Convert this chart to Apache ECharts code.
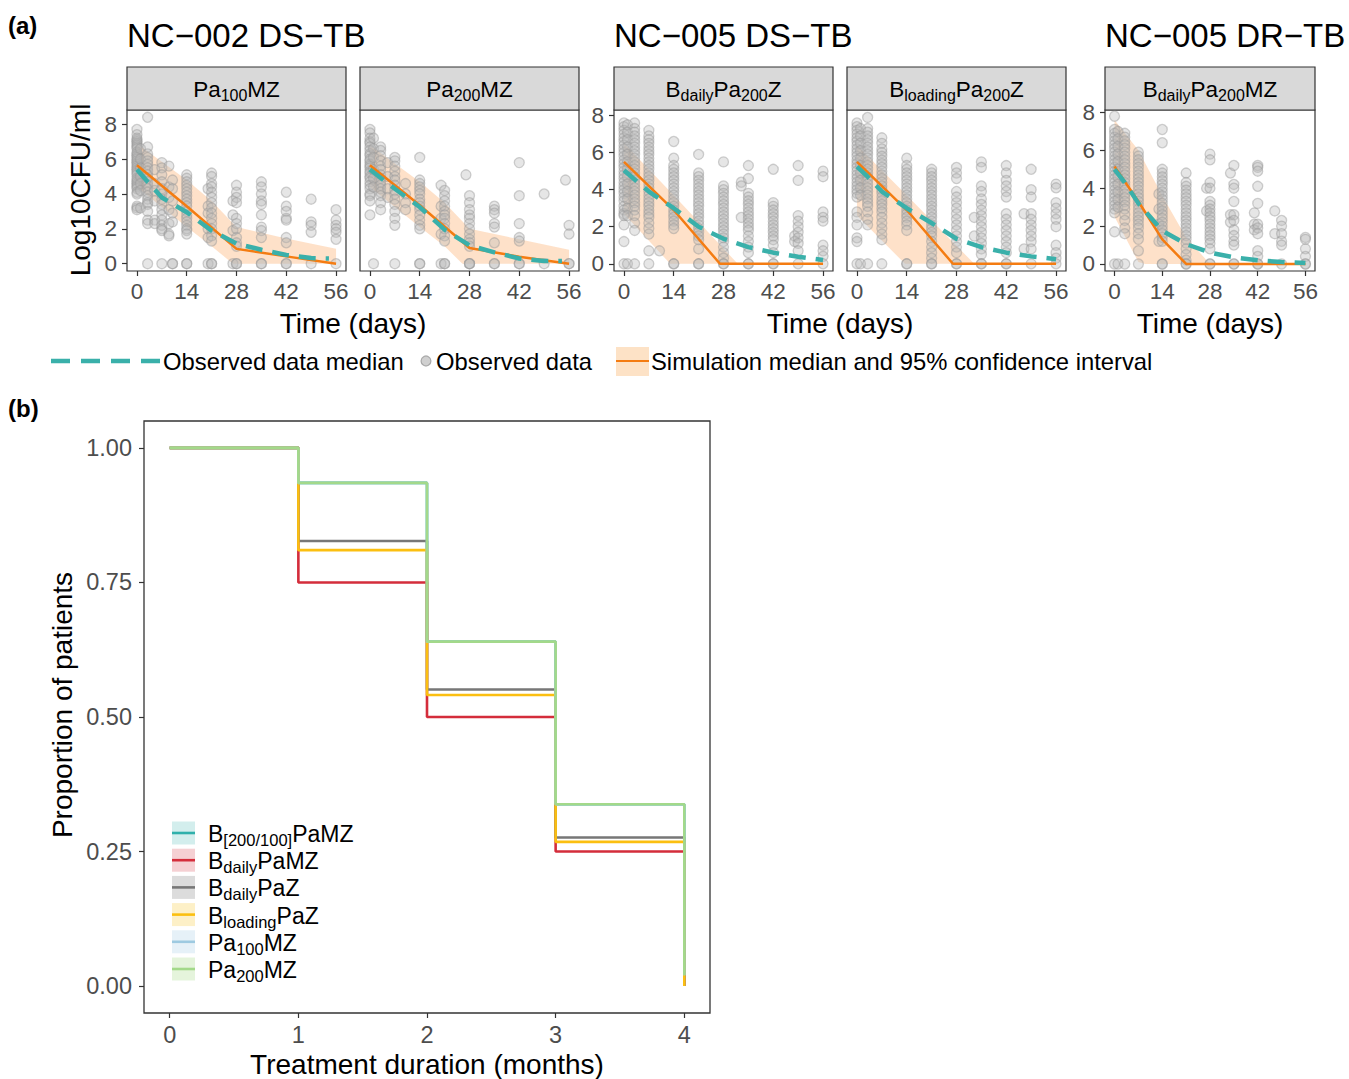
<!DOCTYPE html>
<html>
<head>
<meta charset="utf-8">
<title>Bacterial load and treatment duration</title>
<script src="https://cdn.jsdelivr.net/npm/echarts@6/dist/echarts.min.js"></script>
<style>
  html, body { margin: 0; padding: 0; background: #fff; }
  #chart { width: 1349px; height: 1079px; }
</style>
</head>
<body>
<div id="chart"></div>
<script>
// ---- panel (a): observed log10 CFU/ml, [day, [values]] per visit ----
const obsPa100MZ = [
  [0, [7.7, 7.4, 7.2, 7.1, 7.0, 6.9, 6.8, 6.7, 6.6, 6.4, 6.3, 6.2, 6.1, 6.0, 5.9, 5.8, 5.7, 5.6, 5.5, 5.4, 5.3, 5.2, 5.1, 4.9, 4.8, 4.7, 4.6, 4.5, 4.4, 4.3, 4.1, 4.0, 3.3, 3.2, 3.1]],
  [1, [6.6, 6.0, 5.5, 5.0, 4.6, 4.2, 3.2]],
  [3, [8.4, 6.7, 6.3, 6.1, 5.9, 5.7, 5.5, 5.3, 5.1, 4.9, 4.7, 4.5, 4.3, 4.1, 3.9, 3.7, 3.5, 3.4, 3.0, 2.5, 2.3, 0]],
  [5, [5.4, 4.6, 4.2, 3.6, 2.5, 2.3]],
  [7, [5.8, 5.5, 5.1, 4.7, 4.3, 4.0, 3.7, 3.4, 3.1, 2.8, 2.5, 2.2, 2.0, 1.9, 0]],
  [9, [5.6, 4.4, 3.8, 3.1, 2.3, 1.7, 1.6]],
  [10, [4.8, 4.3, 3.6, 2.9, 2.4, 0, 0]],
  [14, [5.1, 4.9, 4.7, 4.5, 4.3, 4.1, 3.9, 3.7, 3.5, 3.3, 3.0, 2.8, 2.6, 2.4, 2.2, 2.0, 1.9, 1.7, 0, 0]],
  [20, [4.3, 3.3, 2.9, 2.0, 1.5, 0]],
  [21, [5.2, 5.0, 4.6, 4.4, 4.1, 3.8, 3.5, 3.2, 2.9, 2.6, 2.3, 2.0, 1.6, 1.3, 0, 0]],
  [27, [3.6, 2.8, 1.9, 0]],
  [28, [4.5, 4.1, 3.8, 3.5, 2.6, 2.3, 2.0, 1.5, 1.2, 1.0, 0, 0]],
  [35, [4.7, 4.4, 4.0, 3.6, 3.4, 2.8, 2.1, 1.9, 1.5, 0, 0]],
  [42, [4.1, 3.3, 3.0, 2.6, 2.5, 1.5, 1.2, 0, 0]],
  [49, [3.7, 2.4, 2.2, 1.8, 0]],
  [56, [3.1, 2.5, 2.2, 2.0, 1.8, 1.4, 0]]
];
const obsPa200MZ = [
  [0, [7.7, 7.5, 7.2, 7.0, 6.9, 6.7, 6.5, 6.3, 6.2, 6.0, 5.9, 5.7, 5.6, 5.5, 5.3, 5.2, 5.0, 4.9, 4.7, 4.5, 4.3, 4.0, 3.9, 3.6, 2.8]],
  [1, [7.2, 6.6, 6.1, 5.4, 4.9, 4.4, 0]],
  [3, [6.7, 6.5, 6.2, 5.9, 5.6, 5.4, 5.1, 4.9, 4.7, 4.5, 4.3, 4.1, 3.9, 3.5, 3.1]],
  [5, [5.8, 5.0, 4.3, 3.8]],
  [7, [6.1, 5.9, 5.6, 5.3, 5.0, 4.8, 4.5, 4.2, 4.0, 3.7, 3.4, 3.0, 2.6, 2.2, 0]],
  [10, [4.6, 4.0, 3.5, 3.1]],
  [14, [6.1, 4.8, 4.6, 4.4, 4.2, 4.0, 3.7, 3.5, 3.3, 3.1, 2.8, 2.5, 2.2, 2.0, 0, 0]],
  [20, [4.5, 3.3, 2.6, 1.7, 0]],
  [21, [4.2, 3.9, 3.6, 3.3, 3.0, 2.8, 2.6, 2.3, 2.0, 1.6, 1.3, 0, 0]],
  [27, [5.1]],
  [28, [3.9, 3.5, 3.1, 2.8, 2.6, 2.3, 2.0, 1.7, 1.4, 1.2, 1.0, 0, 0, 0]],
  [35, [3.3, 3.1, 2.9, 2.3, 2.1, 1.2, 0, 0]],
  [42, [5.8, 3.9, 2.3, 1.5, 1.3, 0, 0]],
  [49, [4.0, 0]],
  [55, [4.8]],
  [56, [2.2, 1.7, 0, 0]]
];
const obsBdailyPa200Z = [
  [0, [7.6, 7.4, 7.2, 7.0, 6.8, 6.6, 6.4, 6.2, 6.0, 5.8, 5.6, 5.4, 5.2, 5.0, 4.8, 4.6, 4.4, 4.2, 4.0, 3.8, 3.6, 3.4, 3.1, 2.9, 2.7, 2.6, 2.1, 1.2, 0]],
  [1, [7.5, 7.1, 6.7, 6.3, 5.9, 5.5, 5.1, 4.7, 4.3, 3.9, 3.5, 3.0, 2.6, 0]],
  [3, [7.6, 7.3, 7.1, 6.9, 6.7, 6.5, 6.3, 6.1, 5.9, 5.7, 5.5, 5.3, 5.1, 4.9, 4.7, 4.5, 4.3, 4.1, 3.9, 3.7, 3.5, 3.3, 3.1, 2.9, 2.6, 2.2, 1.8, 0]],
  [7, [7.2, 6.9, 6.7, 6.5, 6.3, 6.1, 5.9, 5.7, 5.5, 5.3, 5.1, 4.9, 4.7, 4.5, 4.3, 4.1, 3.9, 3.7, 3.5, 3.3, 3.1, 2.9, 2.7, 2.5, 2.2, 1.9, 1.6, 0.7, 0]],
  [10, [0.7]],
  [14, [6.6, 5.7, 5.3, 5.1, 4.9, 4.7, 4.5, 4.3, 4.1, 3.9, 3.7, 3.5, 3.3, 3.1, 2.9, 2.7, 2.5, 2.3, 2.1, 1.9, 0, 0]],
  [21, [5.9, 4.9, 4.7, 4.5, 4.3, 4.1, 3.9, 3.7, 3.5, 3.3, 3.1, 2.9, 2.7, 2.5, 2.3, 2.1, 1.9, 1.7, 1.5, 1.3, 0.8, 0, 0]],
  [28, [5.5, 4.2, 4.0, 3.8, 3.6, 3.4, 3.2, 3.0, 2.8, 2.6, 2.4, 2.2, 2.0, 1.8, 1.6, 1.4, 1.2, 0.9, 0.6, 0.3, 0, 0]],
  [33, [4.4, 4.2, 2.5]],
  [35, [5.3, 4.6, 3.8, 3.6, 3.4, 3.2, 3.0, 2.8, 2.6, 2.4, 2.2, 2.0, 1.8, 1.5, 1.2, 0.9, 0.6, 0, 0]],
  [42, [5.1, 3.3, 3.1, 2.9, 2.7, 2.5, 2.3, 2.1, 1.9, 1.7, 1.5, 1.3, 1.0, 0.6, 0, 0]],
  [48, [1.5, 1.2]],
  [49, [5.3, 4.5, 2.6, 2.3, 2.0, 1.7, 1.4, 1.1, 0.7, 0]],
  [56, [5.0, 4.7, 2.8, 2.5, 2.3, 1.0, 0.7, 0.4, 0]]
];
const obsBloadingPa200Z = [
  [0, [7.6, 7.4, 7.2, 7.0, 6.8, 6.6, 6.4, 6.2, 6.0, 5.8, 5.6, 5.4, 5.2, 5.0, 4.8, 4.6, 4.4, 4.2, 4.0, 3.8, 3.6, 2.8, 2.5, 2.1, 1.4, 1.2, 0]],
  [1, [7.3, 6.9, 6.5, 6.1, 5.7, 5.3, 4.9, 4.5, 4.1, 3.7, 0]],
  [3, [7.9, 7.3, 7.1, 6.9, 6.7, 6.5, 6.3, 6.1, 5.9, 5.7, 5.5, 5.3, 5.1, 4.9, 4.7, 4.5, 4.3, 4.1, 3.9, 3.7, 3.5, 3.3, 3.1, 2.8, 2.4, 2.1, 0]],
  [7, [6.8, 6.5, 6.2, 6.0, 5.8, 5.6, 5.4, 5.2, 5.0, 4.8, 4.6, 4.4, 4.2, 4.0, 3.8, 3.6, 3.4, 3.2, 3.0, 2.8, 2.5, 2.2, 1.9, 1.6, 1.3, 0]],
  [14, [5.7, 5.3, 5.1, 4.9, 4.7, 4.5, 4.3, 4.1, 3.9, 3.7, 3.5, 3.3, 3.1, 2.9, 2.7, 2.5, 2.3, 2.1, 1.8, 0, 0]],
  [21, [5.1, 4.9, 4.7, 4.5, 4.3, 4.1, 3.9, 3.7, 3.5, 3.3, 3.1, 2.9, 2.7, 2.5, 2.3, 2.1, 1.9, 1.7, 1.5, 1.2, 0.9, 0.6, 0.3, 0, 0]],
  [28, [5.2, 4.9, 4.6, 3.9, 3.6, 3.3, 3.0, 2.7, 2.4, 2.1, 1.8, 1.5, 1.2, 0.9, 0.6, 0, 0]],
  [33, [2.5, 1.5]],
  [35, [5.5, 5.2, 4.2, 3.9, 3.5, 3.2, 2.9, 2.6, 2.3, 2.0, 1.7, 1.4, 1.1, 0.8, 0.5, 0, 0]],
  [42, [5.3, 4.9, 4.5, 4.2, 3.9, 3.6, 2.7, 2.4, 2.1, 1.8, 1.5, 1.2, 0.9, 0.6, 0, 0]],
  [47, [2.7, 0.8]],
  [49, [5.1, 4.0, 3.6, 2.7, 2.4, 2.1, 1.8, 1.5, 1.2, 0.8, 0]],
  [56, [4.3, 4.1, 3.3, 3.0, 2.7, 2.4, 2.0, 1.0, 0.6, 0.3, 0]]
];
const obsBdailyPa200MZ = [
  [0, [7.8, 7.1, 6.9, 6.7, 6.5, 6.3, 6.1, 5.9, 5.7, 5.5, 5.3, 5.1, 4.9, 4.7, 4.5, 4.3, 4.1, 3.9, 3.7, 3.5, 3.3, 3.1, 2.9, 2.7, 1.7, 0]],
  [1, [7.0, 6.6, 6.2, 5.8, 5.4, 5.0, 4.6, 4.2, 3.8, 3.4, 3.0, 0]],
  [3, [6.9, 6.7, 6.5, 6.3, 6.1, 5.9, 5.7, 5.5, 5.3, 5.1, 4.9, 4.7, 4.5, 4.3, 4.1, 3.9, 3.7, 3.5, 3.3, 3.1, 2.9, 2.6, 2.3, 1.9, 1.6, 0]],
  [7, [5.9, 5.7, 5.5, 5.3, 5.1, 4.9, 4.7, 4.5, 4.3, 4.1, 3.9, 3.7, 3.5, 3.3, 3.1, 2.9, 2.7, 2.5, 2.3, 2.1, 1.9, 1.6, 1.3, 0.7, 0]],
  [13, [3.7, 2.9, 2.1, 1.2]],
  [14, [7.1, 6.4, 5.0, 4.8, 4.6, 4.4, 4.2, 4.0, 3.8, 3.6, 3.4, 3.2, 3.0, 2.8, 2.6, 2.4, 2.2, 2.0, 1.8, 1.6, 1.4, 1.2, 0, 0]],
  [21, [4.8, 4.3, 4.1, 3.9, 3.7, 3.5, 3.3, 3.1, 2.9, 2.7, 2.5, 2.3, 2.1, 1.9, 1.7, 1.5, 1.3, 1.1, 0.8, 0.5, 0.2, 0, 0]],
  [27, [4.0, 2.8]],
  [28, [5.8, 5.5, 4.3, 4.0, 3.3, 3.1, 2.9, 2.7, 2.5, 2.3, 2.1, 1.9, 1.7, 1.5, 1.3, 1.1, 0.8, 0, 0]],
  [34, [4.8, 2.6, 2.2]],
  [35, [5.2, 4.2, 4.0, 3.3, 2.6, 2.3, 1.8, 1.5, 1.2, 1.0, 0, 0]],
  [41, [2.7, 2.1, 1.8]],
  [42, [5.2, 5.1, 4.9, 4.1, 3.2, 2.1, 1.9, 1.6, 0.7, 0.4, 0, 0]],
  [47, [2.8, 1.6]],
  [49, [2.3, 2.0, 1.6, 1.2, 1.0, 0]],
  [56, [1.4, 1.3, 0.8, 0.4, 0, 0]]
];

// observed data median, [day, log10 CFU]
const medPa100MZ = [[0, 5.4], [3, 4.7], [7, 3.8], [14, 2.95], [21, 1.9], [28, 1.15], [35, 0.8], [42, 0.5], [49, 0.32], [54, 0.3]];
const medPa200MZ = [[0, 5.4], [7, 4.3], [14, 3.25], [21, 1.95], [28, 1.05], [35, 0.65], [42, 0.3], [49, 0.15], [54, 0.15]];
const medBdailyPa200Z = [[0, 5.05], [3, 4.55], [7, 3.9], [14, 3.0], [21, 2.0], [28, 1.35], [35, 0.9], [42, 0.6], [49, 0.38], [56, 0.2]];
const medBloadingPa200Z = [[0, 5.25], [3, 4.7], [7, 3.9], [14, 3.0], [21, 2.2], [28, 1.35], [35, 0.9], [42, 0.6], [49, 0.4], [56, 0.25]];
const medBdailyPa200MZ = [[0, 5.0], [3, 4.3], [7, 3.2], [14, 1.75], [21, 1.05], [28, 0.6], [35, 0.35], [42, 0.2], [49, 0.1], [56, 0.05]];

// simulation median and 95% interval
const simPa100MZ = [[0, 5.65], [14, 3.3], [28, 0.85], [42, 0.42], [56, 0]];
const loPa100MZ = [[0, 4.4], [14, 2.1], [21, 1.0], [27, 0], [56, 0]];
const hiPa100MZ = [[0, 6.9], [14, 4.8], [21, 3.6], [28, 2.1], [42, 1.45], [56, 0.85]];
const simPa200MZ = [[0, 5.65], [14, 3.35], [28, 0.9], [42, 0.4], [56, 0]];
const loPa200MZ = [[0, 4.4], [14, 2.1], [21, 1.0], [26, 0], [56, 0]];
const hiPa200MZ = [[0, 6.8], [14, 4.7], [21, 3.5], [28, 2.0], [42, 1.4], [56, 0.8]];
const simBdailyPa200Z = [[0, 5.5], [14, 2.9], [27, 0], [56, 0]];
const loBdailyPa200Z = [[0, 2.7], [13, 0], [56, 0]];
const hiBdailyPa200Z = [[0, 6.5], [14, 3.7], [32, 0], [56, 0]];
const simBloadingPa200Z = [[0, 5.5], [14, 2.9], [27, 0], [56, 0]];
const loBloadingPa200Z = [[0, 2.6], [13.5, 0], [56, 0]];
const hiBloadingPa200Z = [[0, 6.4], [14, 3.7], [33, 0], [56, 0]];
const simBdailyPa200MZ = [[0, 5.15], [7, 3.3], [14, 1.3], [21, 0], [56, 0]];
const loBdailyPa200MZ = [[0, 2.5], [7, 0.1], [9, 0], [56, 0]];
const hiBdailyPa200MZ = [[0, 7.6], [7, 6.0], [14, 3.6], [21, 1.4], [28, 0], [56, 0]];

const dayTicks = [0, 14, 28, 42, 56];
const cfuTicks = [0, 2, 4, 6, 8];

// ---- panel (b): proportion of patients by treatment duration ----
const months = [0, 1, 2, 3, 4];
const monthTicks = [0, 1, 2, 3, 4];
const propTicks = [0, 0.25, 0.5, 0.75, 1];
const regimens = ['B[200/100]PaMZ', 'BdailyPaMZ', 'BdailyPaZ', 'BloadingPaZ', 'Pa100MZ', 'Pa200MZ'];
const propB200100PaMZ = [1, 0.935, 0.64, 0.338, 0.02];
const propBdailyPaMZ = [1, 0.75, 0.5, 0.25, 0];
const propBdailyPaZ = [1, 0.827, 0.551, 0.276, 0];
const propBloadingPaZ = [1, 0.81, 0.541, 0.268, 0];
const propPa100MZ = [1, 0.935, 0.64, 0.338, 0.02];
const propPa200MZ = [1, 0.935, 0.64, 0.338, 0.02];

const FONT = '"Liberation Sans", Arial, Helvetica, sans-serif';
const tickGray = '#4d4d4d';
const frame = '#333333';
const teal = '#3AB0AA';
const orange = '#F47C12';
const bandFill = 'rgba(251,170,100,0.35)';

const lineColors = ['#2FB0AB', '#D42D3B', '#777777', '#FBBF10', '#9ECAE1', '#A3D98A'];
const keyFills = ['#D3EEED', '#F5D0D3', '#DCDCDC', '#FDF0C7', '#E6F1F8', '#E5F4DC'];

const richLabel = (size, subSize) => ({
  n: { fontSize: size, fontFamily: FONT, color: '#1a1a1a', lineHeight: size + 6, verticalAlign: 'middle' },
  s: { fontSize: subSize, fontFamily: FONT, color: '#1a1a1a', lineHeight: subSize - 1, verticalAlign: 'bottom' }
});
// names -> rich markup with subscripts
const subMarkup = {
  'Pa100MZ': '{n|Pa}{s|100}{n|MZ}',
  'Pa200MZ': '{n|Pa}{s|200}{n|MZ}',
  'BdailyPa200Z': '{n|B}{s|daily}{n|Pa}{s|200}{n|Z}',
  'BloadingPa200Z': '{n|B}{s|loading}{n|Pa}{s|200}{n|Z}',
  'BdailyPa200MZ': '{n|B}{s|daily}{n|Pa}{s|200}{n|MZ}',
  'B[200/100]PaMZ': '{n|B}{s|[200/100]}{n|PaMZ}',
  'BdailyPaMZ': '{n|B}{s|daily}{n|PaMZ}',
  'BdailyPaZ': '{n|B}{s|daily}{n|PaZ}',
  'BloadingPaZ': '{n|B}{s|loading}{n|PaZ}'
};

const panels = [
  { name: 'Pa100MZ', obs: obsPa100MZ, med: medPa100MZ, sim: simPa100MZ, lo: loPa100MZ, hi: hiPa100MZ, left: 127, width: 219, ymin: -0.42, ymax: 8.82, yLabels: true },
  { name: 'Pa200MZ', obs: obsPa200MZ, med: medPa200MZ, sim: simPa200MZ, lo: loPa200MZ, hi: hiPa200MZ, left: 360, width: 219, ymin: -0.42, ymax: 8.82, yLabels: false },
  { name: 'BdailyPa200Z', obs: obsBdailyPa200Z, med: medBdailyPa200Z, sim: simBdailyPa200Z, lo: loBdailyPa200Z, hi: hiBdailyPa200Z, left: 614, width: 219, ymin: -0.39, ymax: 8.3, yLabels: true },
  { name: 'BloadingPa200Z', obs: obsBloadingPa200Z, med: medBloadingPa200Z, sim: simBloadingPa200Z, lo: loBloadingPa200Z, hi: hiBloadingPa200Z, left: 847, width: 219, ymin: -0.39, ymax: 8.3, yLabels: false },
  { name: 'BdailyPa200MZ', obs: obsBdailyPa200MZ, med: medBdailyPa200MZ, sim: simBdailyPa200MZ, lo: loBdailyPa200MZ, hi: hiBdailyPa200MZ, left: 1105, width: 210, ymin: -0.37, ymax: 8.13, yLabels: true }
];
const PLOT_TOP = 110, PLOT_H = 161, STRIP_TOP = 67;

const toPoints = cols => cols.flatMap(([d, vs]) => vs.map(v => [d, v]));

const chart = echarts.init(document.getElementById('chart'), null, { renderer: 'svg' });

const grid = [], xAxis = [], yAxis = [], series = [], graphic = [];

const axisBase = (gridIndex, min, max, ticks, showLabels, fontSize, margin) => ({
  type: 'value', gridIndex, min, max,
  axisLine: { show: false, onZero: false }, splitLine: { show: false },
  axisTick: { show: showLabels, customValues: ticks, length: 5, lineStyle: { color: frame, width: 1.2 } },
  axisLabel: { show: showLabels, customValues: ticks, fontSize, fontFamily: FONT, color: tickGray, margin }
});

panels.forEach((p, i) => {
  grid.push({ left: p.left, top: PLOT_TOP, width: p.width, height: PLOT_H, show: true,
    borderColor: frame, borderWidth: 1.2, backgroundColor: '#fff' });
  xAxis.push(axisBase(i, -2.8, 58.8, dayTicks, true, 22.5, 9));
  yAxis.push(axisBase(i, p.ymin, p.ymax, cfuTicks, p.yLabels, 22.5, 10));
  const lo = p.lo, hi = p.hi;
  series.push({
    type: 'custom', xAxisIndex: i, yAxisIndex: i, silent: true, z: 1,
    data: [[0, 0]],
    renderItem: (params, api) => ({
      type: 'polygon',
      shape: { points: hi.map(pt => api.coord(pt)).concat(lo.slice().reverse().map(pt => api.coord(pt))) },
      style: { fill: bandFill }
    })
  });
  series.push({
    type: 'scatter', xAxisIndex: i, yAxisIndex: i, z: 2, silent: true,
    data: toPoints(p.obs), symbolSize: 10,
    itemStyle: { color: 'rgba(185,185,185,0.45)', borderColor: 'rgba(150,150,150,0.55)', borderWidth: 1.3 }
  });
  series.push({
    type: 'line', xAxisIndex: i, yAxisIndex: i, z: 3, data: p.sim, symbol: 'none', silent: true,
    lineStyle: { color: orange, width: 2.5 }
  });
  series.push({
    type: 'line', xAxisIndex: i, yAxisIndex: i, z: 4, data: p.med, symbol: 'none', silent: true,
    lineStyle: { color: teal, width: 4.5, type: [17, 10] }
  });
  // facet strip
  graphic.push({ type: 'rect', shape: { x: p.left, y: STRIP_TOP, width: p.width, height: PLOT_TOP - STRIP_TOP },
    style: { fill: '#D9D9D9', stroke: frame, lineWidth: 1.2 }, silent: true });
  graphic.push({ type: 'text', x: p.left + p.width / 2, y: (STRIP_TOP + PLOT_TOP) / 2 + 1,
    style: { text: subMarkup[p.name], rich: richLabel(22.5, 16), align: 'center', verticalAlign: 'middle' }, silent: true });
});

// panel (b) grid
const B = panels.length;
grid.push({ left: 144, top: 421, width: 566, height: 592, show: true, borderColor: frame, borderWidth: 1.3, backgroundColor: '#fff' });
xAxis.push(axisBase(B, -0.2, 4.2, monthTicks, true, 23.5, 10));
const yB = axisBase(B, -0.05, 1.05, propTicks, true, 23.5, 12);
yB.axisLabel.formatter = v => v.toFixed(2);
yAxis.push(yB);

const propSeries = [propB200100PaMZ, propBdailyPaMZ, propBdailyPaZ, propBloadingPaZ, propPa100MZ, propPa200MZ];
regimens.forEach((r, k) => {
  series.push({
    type: 'line', name: r, xAxisIndex: B, yAxisIndex: B, z: 2 + k, step: 'end', symbol: 'none', silent: true,
    data: months.map((m, j) => [m, propSeries[k][j]]),
    lineStyle: { color: lineColors[k], width: 2.6 }
  });
  const ky = 833 + k * 27.2;
  graphic.push({ type: 'rect', shape: { x: 172, y: ky - 11.5, width: 23, height: 23 }, style: { fill: keyFills[k] }, silent: true });
  graphic.push({ type: 'line', shape: { x1: 172, y1: ky, x2: 195, y2: ky }, style: { stroke: lineColors[k], lineWidth: 2.6 }, silent: true });
  graphic.push({ type: 'text', x: 208, y: ky + 1,
    style: { text: subMarkup[r], rich: richLabel(23, 16.5), align: 'left', verticalAlign: 'middle' }, silent: true });
});

// titles and axis titles
const plainText = (x, y, text, size, opts = {}) => ({
  type: 'text', x, y, rotation: opts.rotation || 0, silent: true,
  style: { text, fill: '#000', fontSize: size, fontFamily: FONT, fontWeight: opts.bold ? 'bold' : 'normal',
    align: opts.align || 'center', verticalAlign: 'middle' }
});
graphic.push(plainText(8, 25, '(a)', 24, { align: 'left', bold: true }));
graphic.push(plainText(127, 35, 'NC\u2212002 DS\u2212TB', 33, { align: 'left' }));
graphic.push(plainText(614, 35, 'NC\u2212005 DS\u2212TB', 33, { align: 'left' }));
graphic.push(plainText(1105, 35, 'NC\u2212005 DR\u2212TB', 33, { align: 'left' }));
graphic.push(plainText(80, 190, 'Log10CFU/ml', 28, { rotation: Math.PI / 2 }));
graphic.push(plainText(353, 323, 'Time (days)', 28));
graphic.push(plainText(840, 323, 'Time (days)', 28));
graphic.push(plainText(1210, 323, 'Time (days)', 28));

// panel (a) legend
graphic.push({ type: 'line', shape: { x1: 51, y1: 361, x2: 160, y2: 361 },
  style: { stroke: teal, lineWidth: 4.5, lineDash: [19, 11] }, silent: true });
graphic.push(plainText(163, 361, 'Observed data median', 23.8, { align: 'left' }));
graphic.push({ type: 'circle', shape: { cx: 426, cy: 361, r: 5 },
  style: { fill: 'rgba(150,150,150,0.45)', stroke: 'rgba(130,130,130,0.6)', lineWidth: 1.2 }, silent: true });
graphic.push(plainText(436, 361, 'Observed data', 23.8, { align: 'left' }));
graphic.push({ type: 'rect', shape: { x: 616, y: 347, width: 33, height: 29 }, style: { fill: '#FDE2C6' }, silent: true });
graphic.push({ type: 'line', shape: { x1: 616, y1: 361, x2: 649, y2: 361 }, style: { stroke: orange, lineWidth: 2.2 }, silent: true });
graphic.push(plainText(651, 361, 'Simulation median and 95% confidence interval', 23.8, { align: 'left' }));

// panel (b) labels
graphic.push(plainText(8, 408, '(b)', 24, { align: 'left', bold: true }));
graphic.push(plainText(62, 705, 'Proportion of patients', 28, { rotation: Math.PI / 2 }));
graphic.push(plainText(427, 1064, 'Treatment duration (months)', 28));

chart.setOption({
  animation: false,
  backgroundColor: '#fff',
  grid, xAxis, yAxis, series, graphic
});
</script>
</body>
</html>
